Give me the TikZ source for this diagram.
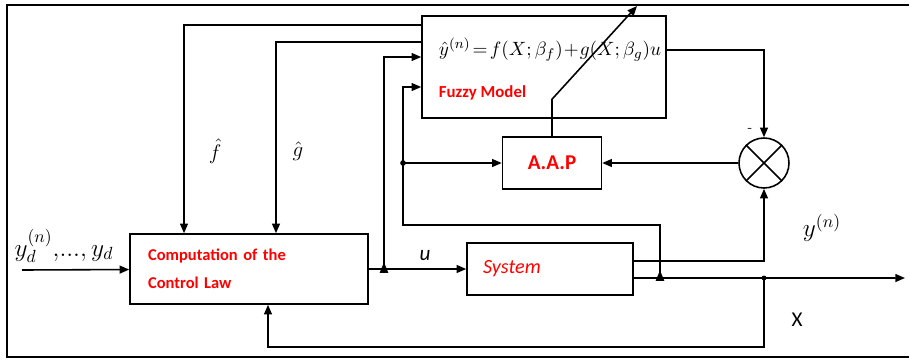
\documentclass[tikz,border=0pt]{standalone}
\usepackage{fontspec}
\setsansfont{Carlito}
\usetikzlibrary{arrows.meta,shapes.geometric}

\begin{document}
\begin{tikzpicture}[
x=.02cm,y=-.02cm,
>={Triangle[length=5.5pt,width=4.5pt]},
line width=.9pt,
block/.style={
draw,
inner sep=0pt,
font=\sffamily\fontsize{9.4}{11}\selectfont\bfseries,
text=red},
joint/.style={
isosceles triangle,
shape border rotate=90,
fill,
inner sep=0pt,
minimum height=4pt,
minimum width=5pt},
lbl/.style={inner sep=0pt}
]
\useasboundingbox (0,0) rectangle (910,360);
\draw (909,5)--(7,5)--(7,357)--(909,357);

% blocks
\node[block,minimum width=4.76cm,minimum height=1.4cm,text width=4.04cm,align=left] (ccl) at (249,269)
{Computation of the\\[5pt]Control Law};
\node[block,minimum width=3.32cm,minimum height=1.04cm,text width=2.68cm,align=left,font=\sffamily\fontsize{11.5}{13}\selectfont\itshape] (sys) at (550,269) {System};
\node[block,minimum width=4.88cm,minimum height=2.04cm] (fuzzy) at (544,67) {};
\node[lbl] (eq) at (550,50) {\fontsize{11.3}{13}\selectfont$\hat{y}^{(n)}\!=\!f\!\left(X;\beta_f\right)\!+\!g\!\left(X;\beta_g\right)\!u$};
\node[lbl,font=\sffamily\fontsize{9.6}{11}\selectfont\bfseries,text=red,anchor=west] (fmlab) at (438,93) {Fuzzy Model};
\node[block,minimum width=1.98cm,minimum height=1.04cm,font=\sffamily\large\bfseries] (aap) at (552,163) {A.A.P};
\node[draw,circle,minimum size=1cm,inner sep=0pt] (sum) at (764,163) {};
\draw (sum.north west)--(sum.south east) (sum.north east)--(sum.south west);

% junctions
\coordinate (in) at (22,270);
\coordinate (j1) at (384,270);
\coordinate (j2) at (403,163);
\coordinate (tap) at (660,225);
\coordinate (j3) at (660,278);
\coordinate (j4) at (764,278);
\coordinate (out) at (905,278);
\coordinate (fb) at (268,347);
\coordinate (tip) at (637,6);
\node[joint] at (j1) {};
\node[joint] at (j3) {};
\fill (j2) circle (1.6pt);
\fill (j4) circle (1.4pt);

% signals
\draw[->] (in)--(ccl);
\draw[->] (ccl)--(sys);
\draw[->] (j1)|-([yshift=.2cm]fuzzy.west);
\draw[->] ([yshift=.84cm]fuzzy.west)-|([xshift=-1.3cm]ccl.north);
\draw[->] ([yshift=.5cm]fuzzy.west)-|([xshift=.54cm]ccl.north);
\draw[->] ([yshift=.34cm]fuzzy.east)-|(sum.north);
\draw[->] (sum)--(aap);
\draw[->] (j2)--(aap);
\draw[->] (j2)|-([yshift=-.4cm]fuzzy.west);
\draw (j2)|-(tap)--(j3);
\draw[->] ([yshift=.16cm]sys.east)-|(sum.south);
\draw[->] ([yshift=-.18cm]sys.east)--(out);
\draw[->] (j4)|-(fb)--([xshift=.38cm]ccl.south);
\draw[->] (aap.north)--++(0,-37)--(tip);

% labels
\node[lbl] (yd) at (64,246) {\Large$y_d^{(n)},\!...,y_d$};
\node[lbl] (u) at (425,256) {\sffamily\large\itshape u};
\node[lbl] (fh) at (215,151) {\large$\hat{f}$};
\node[lbl] (gh) at (298,151) {\large$\hat{g}$};
\node[lbl] (yn) at (822,228) {\Large$y^{(n)}$};
\node[lbl,font=\sffamily\large] (xl) at (797,320) {X};
\node[lbl] (mn) at (750,130) {\scriptsize-};
\end{tikzpicture}
\end{document}
